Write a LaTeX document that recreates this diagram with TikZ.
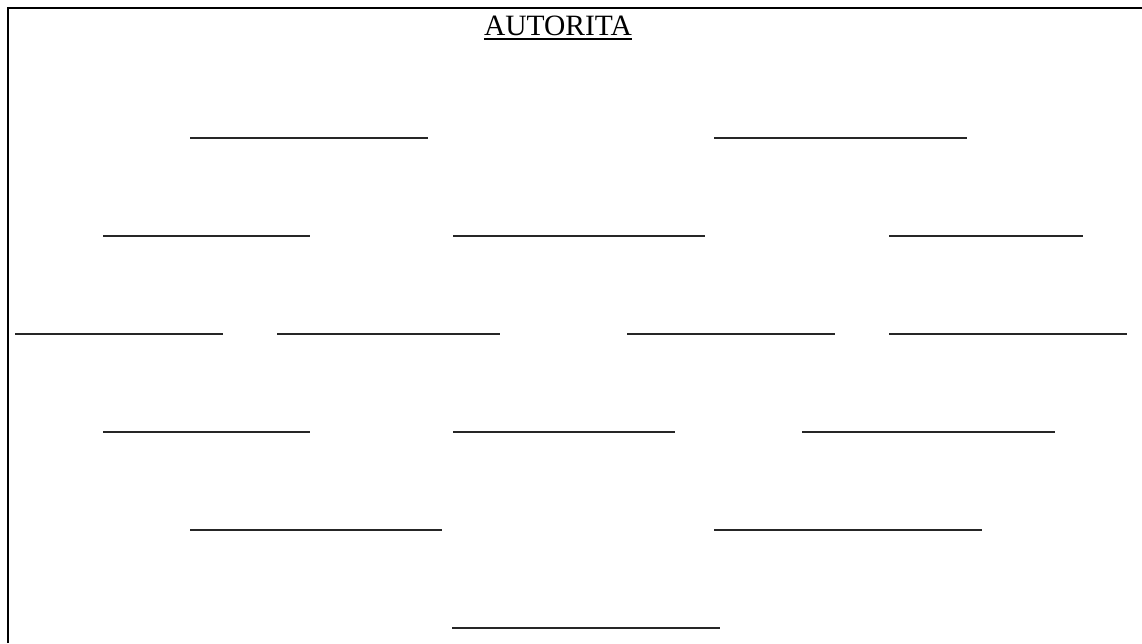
\documentclass[tikz,border=0pt]{standalone}
\usepackage{fontspec}
\setmainfont{Liberation Serif}
\begin{document}
\begin{tikzpicture}[x=1pt,y=-1pt,
  frame/.style={line width=2pt,black},
  blank/.style={line width=1.7pt,black!85},
  titlebox/.style={inner sep=0pt,anchor=base,font=\fontsize{29.5}{34}\selectfont}]
\useasboundingbox (0,0) rectangle (1142,643);
% frame (only top and left edges visible)
\coordinate (fTL) at (7.5,8);
\coordinate (fTR) at (1142,8);
\coordinate (fBL) at (7.5,643);
\draw[frame] (fBL) -- (fTL) -- (fTR);
% title
\node[titlebox] (title) at (558,35) {AUTORITA};
\draw[line width=1.2pt] ([yshift=-4pt]title.base west) -- ([yshift=-4pt]title.base east);
% blank lines
\foreach \n/\a/\b/\y in {
  a1/190/428/138, a2/714/967/138,
  b1/103/310/236, b2/453/705/236, b3/889/1083/236,
  c1/15/223/334, c2/277/500/334, c3/627/835/334, c4/889/1127/334,
  d1/103/310/432, d2/453/675/432, d3/802/1055/432,
  e1/190/442/530, e2/714/982/530,
  f1/452/720/628}{
  \coordinate (\n L) at (\a,\y);
  \coordinate (\n R) at (\b,\y);
  \draw[blank] (\n L) -- (\n R);
}
\end{tikzpicture}
\end{document}
